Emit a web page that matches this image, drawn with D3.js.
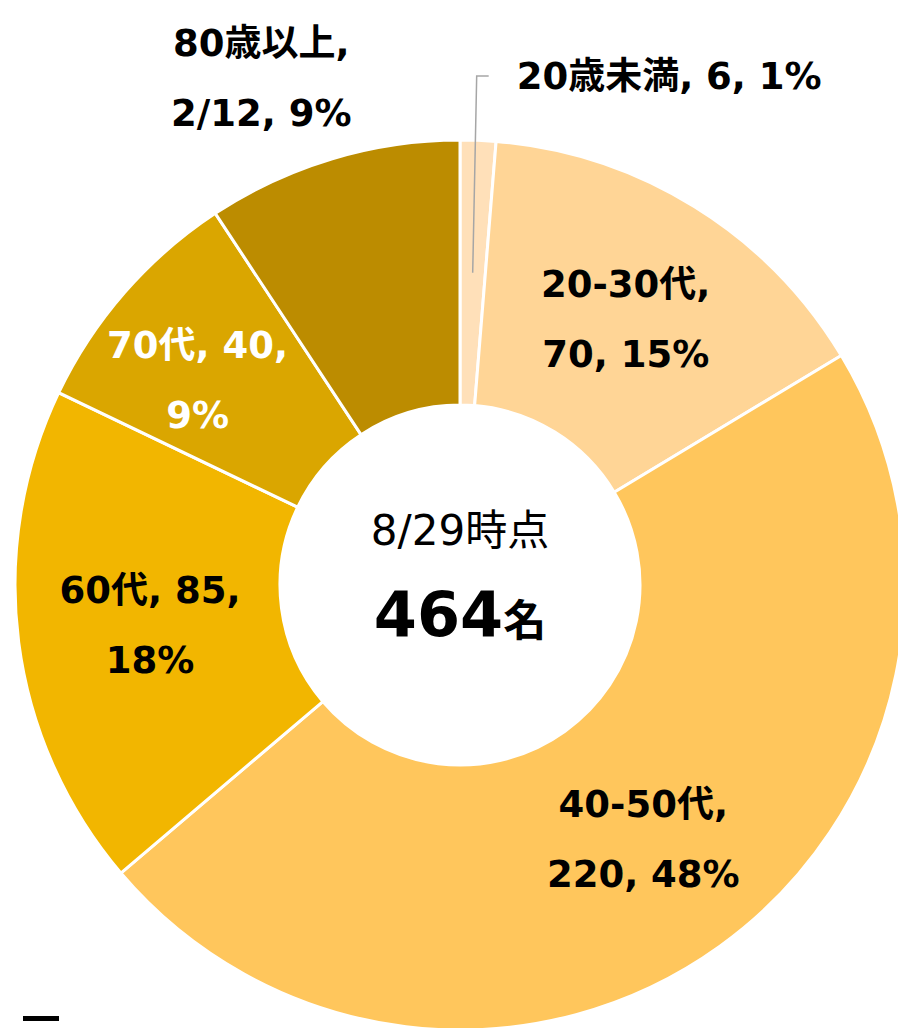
<!DOCTYPE html>
<html>
<head>
<meta charset="utf-8">
<title>年代別内訳</title>
<script src="https://d3js.org/d3.v7.min.js"></script>
<style>
  body { margin: 0; background: #fff; }
  svg { display: block; }
  .lbl { font-family: "DejaVu Sans", "Noto Sans CJK JP", sans-serif; font-weight: bold; font-size: 37px; }
</style>
</head>
<body>
<svg width="898" height="1028"></svg>
<script>
// data
var categories = ["20歳未満", "20-30代", "40-50代", "60代", "70代", "80歳以上"];
var values = [6, 70, 220, 85, 40, 43];
var labelLines = [
  ["20歳未満, 6, 1%"],
  ["20-30代,", "70, 15%"],
  ["40-50代,", "220, 48%"],
  ["60代, 85,", "18%"],
  ["70代, 40,", "9%"],
  ["80歳以上,", "2/12, 9%"]
];
var colors = ["#FFE0B9", "#FFD596", "#FFC65C", "#F2B600", "#DAA600", "#BC8C00"];
var labelColors = ["#000", "#000", "#000", "#000", "#fff", "#000"];
// manual label nudges (like moved labels in the original)
var labelOffsets = [[0, 0], [1, 0], [1, 0], [0, 0], [-27, 0], [-109, -208]];
var total = d3.sum(values);

var svg = d3.select("svg");
var cx = 460, cy = 585, rOuter = 445, rInner = 180;
var g = svg.append("g").attr("transform", "translate(" + cx + "," + cy + ")");

var pie = d3.pie().sort(null).value(function(d) { return d; });
var arcs = pie(values);
var arc = d3.arc().innerRadius(rInner).outerRadius(rOuter);
var mid = d3.arc().innerRadius((rInner + rOuter) / 2).outerRadius((rInner + rOuter) / 2);

g.selectAll("path.slice")
  .data(arcs)
  .enter()
  .append("path")
  .attr("class", "slice")
  .attr("d", arc)
  .attr("fill", function(d, i) { return colors[i]; })
  .attr("stroke", "#fff")
  .attr("stroke-width", 3);

// labels inside / near slices
arcs.forEach(function(d, i) {
  if (i === 0) return;
  var c = mid.centroid(d);
  var x = c[0] + labelOffsets[i][0], y = c[1] + labelOffsets[i][1];
  var t = g.append("text")
    .attr("class", "lbl")
    .attr("text-anchor", "middle")
    .attr("fill", labelColors[i]);
  labelLines[i].forEach(function(line, j) {
    t.append("tspan")
      .attr("x", x)
      .attr("y", y + (j - (labelLines[i].length - 1) / 2) * 70 + 13)
      .text(line);
  });
});

// smallest slice: label outside with leader line
var c0 = mid.centroid(arcs[0]);
var elbowY = -509;
g.append("polyline")
  .attr("points", [[c0[0], c0[1]], [c0[0] + 4, elbowY], [c0[0] + 16, elbowY]].map(function(p) { return p.join(","); }).join(" "))
  .attr("fill", "none")
  .attr("stroke", "#A6A6A6")
  .attr("stroke-width", 1.5);
g.append("text")
  .attr("class", "lbl")
  .attr("x", c0[0] + 44)
  .attr("y", elbowY + 13)
  .attr("fill", "#000")
  .text(labelLines[0][0]);

// centre text
g.append("text")
  .attr("text-anchor", "middle")
  .attr("y", -40)
  .style("font-family", "'DejaVu Sans', 'Noto Sans CJK JP', sans-serif")
  .style("font-size", "42px")
  .attr("fill", "#000")
  .text("8/29時点");
var tot = g.append("text")
  .attr("text-anchor", "middle")
  .attr("y", 51)
  .style("font-family", "'DejaVu Sans', 'Noto Sans CJK JP', sans-serif")
  .style("font-weight", "bold")
  .attr("fill", "#000");
tot.append("tspan").style("font-size", "62px").text(total);
tot.append("tspan").style("font-size", "43px").text("名");

// small legend stub at bottom-left
svg.append("rect")
  .attr("x", 23).attr("y", 1016)
  .attr("width", 36).attr("height", 5)
  .attr("fill", "#000");
</script>
</body>
</html>
